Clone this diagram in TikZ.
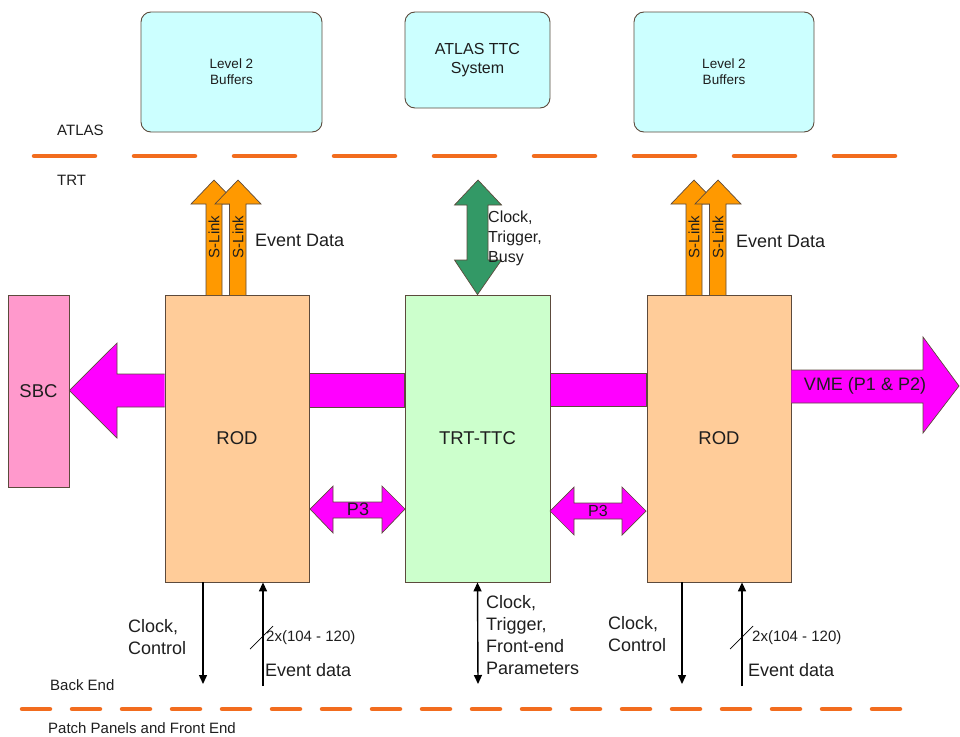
\documentclass[tikz,border=0pt]{standalone}
\usepackage{fontspec}
\setmainfont{Liberation Sans}
\usetikzlibrary{arrows.meta,calc}
\definecolor{cyanbox}{HTML}{CCFFFF}
\definecolor{peach}{HTML}{FFCC99}
\definecolor{mint}{HTML}{CCFFCC}
\definecolor{pinkbox}{HTML}{FF99CC}
\definecolor{mag}{HTML}{FF00FF}
\definecolor{orng}{HTML}{FF9900}
\definecolor{dgreen}{HTML}{339966}
\definecolor{dashorange}{HTML}{F26C1E}
\definecolor{edge}{HTML}{5C4A3C}
\definecolor{txt}{HTML}{1E1E1E}
\begin{document}
\begin{tikzpicture}[x=1pt,y=-1pt,
  blk/.style={draw=edge, line width=0.8pt, inner sep=0pt, text=txt, font=\fontsize{18.5}{22}\selectfont},
  topbox/.style={draw=edge, line width=0.9pt, fill=cyanbox, rounded corners=10pt, inner sep=0pt, align=center, text=txt},
  lbl/.style={inner sep=0pt, text=txt, font=\fontsize{18}{22}\selectfont, align=left},
  smalllbl/.style={inner sep=0pt, text=txt, font=\fontsize{15}{18}\selectfont},
  dashtop/.style={draw=dashorange, line width=4.5pt, line cap=round, dash pattern=on 61pt off 39pt},
  dashbot/.style={draw=dashorange, line width=4.5pt, line cap=round, dash pattern=on 28pt off 22pt},
  magarrow/.style={fill=mag, draw=edge, line width=0.7pt},
  orarrow/.style={fill=orng, draw=edge, line width=0.7pt},
  grarrow/.style={fill=dgreen, draw=edge, line width=0.7pt},
  thinarr/.style={draw=black, line width=1.4pt, -{Triangle[length=9pt,width=8pt]}},
  thinarrtwo/.style={draw=black, line width=1.4pt, {Triangle[length=9pt,width=8pt]}-{Triangle[length=9pt,width=8pt]}},
]
\useasboundingbox (0,0) rectangle (960,736);

% top boxes
\node[topbox, minimum width=181pt, minimum height=120pt, font=\fontsize{13.5}{16}\selectfont] (l2a) at (231.5,72) {Level 2\\Buffers};
\node[topbox, minimum width=145pt, minimum height=96pt, font=\fontsize{16}{19}\selectfont] (ttc) at (477.5,60) {ATLAS TTC\\System};
\node[topbox, minimum width=180pt, minimum height=120pt, font=\fontsize{13.5}{16}\selectfont] (l2b) at (724,72) {Level 2\\Buffers};

% boundary lines
\draw[dashtop] (34,156) -- (896,156);
\draw[dashbot] (22,709) -- (900,709);
\node[smalllbl, anchor=west] (atlas) at (57,130) {ATLAS};
\node[smalllbl, anchor=west] (trt) at (57,180) {TRT};
\node[smalllbl, anchor=west] (backend) at (50,685) {Back End};
\node[smalllbl, anchor=west] (frontend) at (48,728) {Patch Panels and Front End};

% main blocks
\node[blk, fill=pinkbox, minimum width=61pt, minimum height=192pt] (sbc) at (38.5,391) {SBC};
\node[blk, fill=peach, minimum width=144pt, minimum height=287pt] (rodL) at (237,438.5) {ROD};
\node[blk, fill=mint, minimum width=145pt, minimum height=287pt] (trtttc) at (477.5,438.5) {TRT-TTC};
\node[blk, fill=peach, minimum width=144pt, minimum height=287pt] (rodR) at (719,438.5) {ROD};

% VME bus arrows
\draw[magarrow] (rodL.west |- 0,374) -- (117,374) -- (117,343) -- (sbc.east |- 0,390.5) -- (117,438) -- (117,407) -- (rodL.west |- 0,407);
\draw[magarrow] (rodL.east |- 0,373) rectangle (trtttc.west |- 0,407);
\draw[magarrow] (trtttc.east |- 0,373) rectangle (rodR.west |- 0,406);
\draw[magarrow] (rodR.east |- 0,370) -- (923,370) -- (923,337) -- (959,386) -- (923,433) -- (923,403) -- (rodR.east |- 0,403);
\node[lbl, anchor=center] (vme) at (865,386) {VME (P1 \& P2)};

% P3 arrows
\draw[magarrow] (310,509) -- (333,486) -- (333,502) -- (382,502) -- (382,486) -- (405,509) -- (382,533) -- (382,518) -- (333,518) -- (333,533) -- cycle;
\node[lbl, anchor=center] (p3a) at (358,509) {P3};
\draw[magarrow] (550,511) -- (574,487) -- (574,503) -- (622,503) -- (622,487) -- (646,511) -- (622,535) -- (622,519) -- (574,519) -- (574,535) -- cycle;
\node[smalllbl, font=\fontsize{16}{18}\selectfont, anchor=center] (p3b) at (598,511) {P3};

% S-Link arrows left
\draw[orarrow] (206,295) -- (206,204) -- (191,204) -- (214,180) -- (237,204) -- (222,204) -- (222,295);
\draw[orarrow] (229.5,295) -- (229.5,204) -- (215,204) -- (238,180) -- (261,204) -- (246,204) -- (246,295);
\node[smalllbl, rotate=90] (slA1) at (214,237) {S-Link};
\node[smalllbl, rotate=90] (slA2) at (238,237) {S-Link};
\node[lbl, anchor=west] (evA) at (255,240) {Event Data};

% S-Link arrows right
\draw[orarrow] (686,295) -- (686,204) -- (671,204) -- (694,180) -- (717,204) -- (702,204) -- (702,295);
\draw[orarrow] (709.5,295) -- (709.5,204) -- (695,204) -- (718,180) -- (741,204) -- (726,204) -- (726,295);
\node[smalllbl, rotate=90] (slB1) at (694,237) {S-Link};
\node[smalllbl, rotate=90] (slB2) at (718,237) {S-Link};
\node[lbl, anchor=west] (evB) at (736,241) {Event Data};

% green TTC arrow
\draw[grarrow] (478,180) -- (501.5,205) -- (488,205) -- (488,260) -- (501.5,260) -- (trtttc.north) -- (454.5,260) -- (467,260) -- (467,205) -- (454.5,205) -- cycle;
\node[lbl, font=\fontsize{16}{20}\selectfont, anchor=west] (ctb) at (488,238) {Clock,\\Trigger,\\Busy};

% bottom signals left ROD
\coordinate (ccL) at (203,684);
\coordinate (edL) at (263,686);
\draw[thinarr] (rodL.south -| ccL) -- (ccL);
\draw[thinarr] (edL) -- (rodL.south -| edL);
\draw[line width=0.7pt] (250,649) -- (273,626);
\node[lbl, anchor=west] (ccLt) at (128,637.5) {Clock,\\Control};
\node[smalllbl, anchor=west] (busL) at (266,638) {2x(104 - 120)};
\node[lbl, anchor=west] (edLt) at (265,670) {Event data};

% bottom signals TRT-TTC
\coordinate (ctf) at (478,684);
\draw[thinarrtwo] (trtttc.south) -- (ctf);
\node[lbl, anchor=west] (ctft) at (486,635) {Clock,\\Trigger,\\Front-end\\Parameters};

% bottom signals right ROD
\coordinate (ccR) at (682,684);
\coordinate (edR) at (742,686);
\draw[thinarr] (rodR.south -| ccR) -- (ccR);
\draw[thinarr] (edR) -- (rodR.south -| edR);
\draw[line width=0.7pt] (730,649) -- (753,626);
\node[lbl, anchor=west] (ccRt) at (608,634.5) {Clock,\\Control};
\node[smalllbl, anchor=west] (busR) at (752,638) {2x(104 - 120)};
\node[lbl, anchor=west] (edRt) at (748,670) {Event data};
\end{tikzpicture}
\end{document}
